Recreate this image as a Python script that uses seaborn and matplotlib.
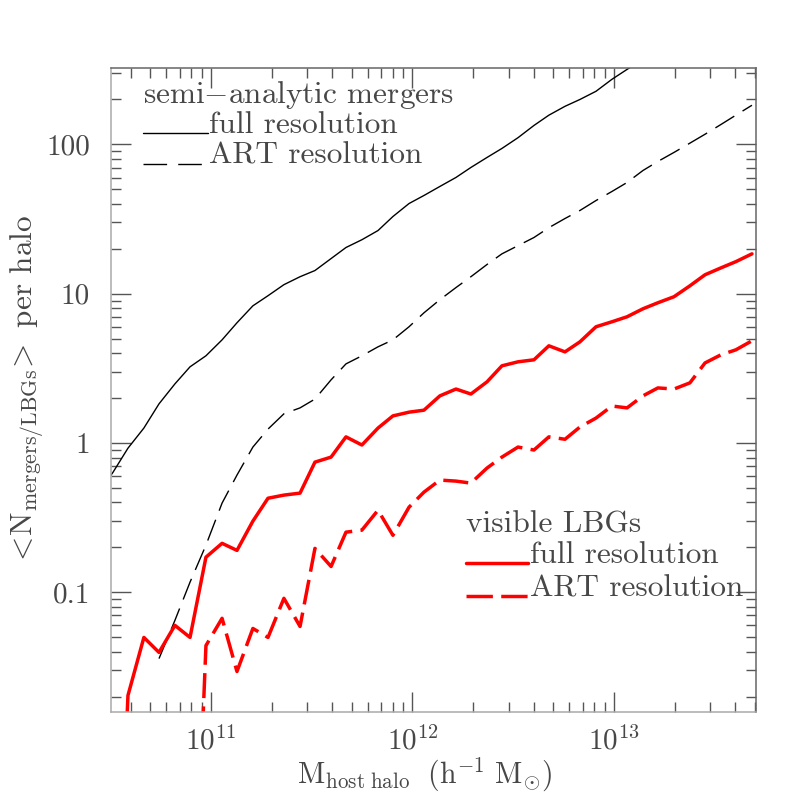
import matplotlib
matplotlib.use("Agg")
import matplotlib.pyplot as plt
import numpy as np
import pandas as pd
import seaborn as sns
from matplotlib.ticker import FixedLocator, FixedFormatter, LogLocator, NullFormatter
from matplotlib.lines import Line2D

# ---- data ----
# log10 host-halo mass bin centres (h^-1 Msun)
log_mass_bins = [10.434, 10.514, 10.588, 10.667, 10.742, 10.821, 10.896, 10.975,
                 11.055, 11.129, 11.208, 11.283, 11.362, 11.442, 11.516, 11.596,
                 11.670, 11.749, 11.829, 11.903, 11.983, 12.057, 12.136, 12.216,
                 12.290, 12.370, 12.444, 12.524, 12.603, 12.677, 12.757, 12.831,
                 12.911, 12.990, 13.065, 13.144, 13.218, 13.298, 13.377, 13.452,
                 13.531, 13.605, 13.685]

# semi-analytic mergers, full resolution (starts at bin 0)
sam_full = [0.448, 0.638, 0.924, 1.26, 1.83, 2.49, 3.24, 3.84, 4.91, 6.39, 8.30,
            9.70, 11.5, 13.0, 14.3, 17.2, 20.4, 23.0, 26.5, 32.9, 40.2, 45.5,
            52.3, 60.1, 70.1, 81.8, 94.0, 111, 134, 157, 180, 200, 227, 273,
            318, 372]
# semi-analytic mergers, ART resolution (starts at bin 4)
sam_art = [0.036, 0.0649, 0.117, 0.207, 0.396, 0.610, 0.940, 1.24, 1.57, 1.72,
           1.97, 2.65, 3.39, 3.84, 4.41, 4.91, 6.01, 7.45, 9.12, 11.0, 13.0,
           15.7, 18.5, 21.0, 23.8, 27.7, 31.9, 36.1, 42.1, 48.4, 55.6, 66.9,
           76.9, 88.4, 102, 117, 136, 157, 183]
# visible LBGs, full resolution (starts at bin 1; first bin empty)
lbg_full = [1e-4, 0.0204, 0.0499, 0.0396, 0.0601, 0.0499, 0.172, 0.213, 0.191,
            0.300, 0.427, 0.448, 0.462, 0.745, 0.805, 1.10, 0.970, 1.26, 1.52,
            1.61, 1.66, 2.07, 2.30, 2.13, 2.57, 3.29, 3.50, 3.61, 4.48, 4.08,
            4.76, 6.01, 6.49, 7.01, 7.93, 8.70, 9.55, 11.3, 13.4, 14.9, 16.4, 18.5]
# visible LBGs, ART resolution (starts at bin 6; first bin empty)
lbg_art = [1e-4, 0.044, 0.067, 0.0295, 0.0573, 0.0499, 0.0912, 0.0591, 0.197,
           0.149, 0.253, 0.261, 0.355, 0.241, 0.372, 0.469, 0.565, 0.556, 0.539,
           0.680, 0.805, 0.940, 0.898, 1.10, 1.06, 1.28, 1.47, 1.77, 1.72, 2.07,
           2.34, 2.30, 2.53, 3.44, 3.90, 4.21, 4.84]

series = [("sam_full", sam_full, 0), ("sam_art", sam_art, 4),
          ("lbg_full", lbg_full, 1), ("lbg_art", lbg_art, 6)]

y_ticks = [0.1, 1, 10, 100]
y_tick_labels = ["0.1", "1", "10", "100"]

rows = []
for name, vals, start in series:
    for i, v in enumerate(vals):
        rows.append({"series": name, "mass": 10 ** log_mass_bins[start + i], "n": v})
df = pd.DataFrame(rows)

# ---- style ----
sns.set_style("ticks")
plt.rcParams["font.family"] = ["cmr10", "DejaVu Serif"]
plt.rcParams["mathtext.fontset"] = "cm"
plt.rcParams["axes.formatter.use_mathtext"] = True
plt.rcParams["lines.scale_dashes"] = False
plt.rcParams["axes.unicode_minus"] = False

TXT = "#474747"
fig = plt.figure(figsize=(7.97, 7.97), dpi=100)
ax = fig.add_axes([111 / 797, 1 - 712 / 797, 645 / 797, 644 / 797])
ax.set_xscale("log")
ax.set_yscale("log")

styles = {
    "sam_full": dict(color="black", lw=1.0, ls="-"),
    "sam_art": dict(color="black", lw=1.0, ls=(0, (16, 7))),
    "lbg_full": dict(color="#ff0000", lw=2.5, ls="-"),
    "lbg_art": dict(color="#ff0000", lw=2.5, ls=(0, (18, 6))),
}
for name, _, _ in series:
    st = styles[name]
    sns.lineplot(data=df[df.series == name], x="mass", y="n", ax=ax,
                 estimator=None, sort=True, color=st["color"], lw=st["lw"],
                 linestyle=st["ls"], legend=False)

ax.set_xlim(3.19e10, 5.07e13)
ax.set_ylim(0.0158, 325)

ax.yaxis.set_major_locator(FixedLocator(y_ticks))
ax.yaxis.set_major_formatter(FixedFormatter(y_tick_labels))
ax.yaxis.set_minor_locator(LogLocator(base=10, subs=np.arange(2, 10)))
ax.yaxis.set_minor_formatter(NullFormatter())
ax.xaxis.set_major_locator(LogLocator(base=10, numticks=10))
ax.xaxis.set_minor_locator(LogLocator(base=10, subs=np.arange(2, 10), numticks=10))
ax.xaxis.set_minor_formatter(NullFormatter())

ax.tick_params(which="both", direction="in", top=True, right=True, color="#555555", width=1.0)
ax.tick_params(which="major", length=14.4)
ax.tick_params(which="minor", length=7.2)
ax.tick_params(axis="y", which="major", pad=15, labelsize=21, labelcolor=TXT)
ax.tick_params(axis="x", which="major", pad=10, labelsize=21, labelcolor=TXT)

for side in ["left", "bottom"]:
    ax.spines[side].set_color("#aaaaaa")
for side in ["top", "right"]:
    ax.spines[side].set_color("#666666")
for s in ax.spines.values():
    s.set_linewidth(1.1)

ax.set_xlabel(r"$\rm M_{host\ halo}\ \ (h^{-1}\ M_{\odot})$", fontsize=21.5, color=TXT)
ax.xaxis.set_label_coords(0.487, -0.068)
ax.set_ylabel(r"$<\!\rm N_{mergers/LBGs}\!>$ per halo", fontsize=22.5, color=TXT)
ax.yaxis.set_label_coords(-0.10, 0.5)

# ---- legends (drawn in axes fraction) ----
T = ax.transAxes
fs = 22.5
ax.text(0.0496, 0.9457, "semi$-$analytic mergers", transform=T, fontsize=fs, color=TXT, va="baseline")
ax.add_line(Line2D([0.0496, 0.150], [0.899, 0.899], transform=T, color="black", lw=1.0))
ax.text(0.152, 0.899, "full resolution", transform=T, fontsize=fs, color=TXT, va="baseline")
ax.add_line(Line2D([0.0496, 0.150], [0.851, 0.851], transform=T, color="black", lw=1.0,
                   ls=(0, (17, 8))))
ax.text(0.152, 0.851, "ART resolution", transform=T, fontsize=fs, color=TXT, va="baseline")

ax.text(0.550, 0.2795, "visible LBGs", transform=T, fontsize=fs, color=TXT, va="baseline")
ax.add_line(Line2D([0.550, 0.6465], [0.2314, 0.2314], transform=T, color="#ff0000", lw=2.5))
ax.text(0.6496, 0.2314, "full resolution", transform=T, fontsize=fs, color=TXT, va="baseline")
ax.add_line(Line2D([0.550, 0.6465], [0.180, 0.180], transform=T, color="#ff0000", lw=2.5,
                   ls=(0, (19, 6))))
ax.text(0.6496, 0.180, "ART resolution", transform=T, fontsize=fs, color=TXT, va="baseline")

fig.savefig("out.png", dpi=100)
